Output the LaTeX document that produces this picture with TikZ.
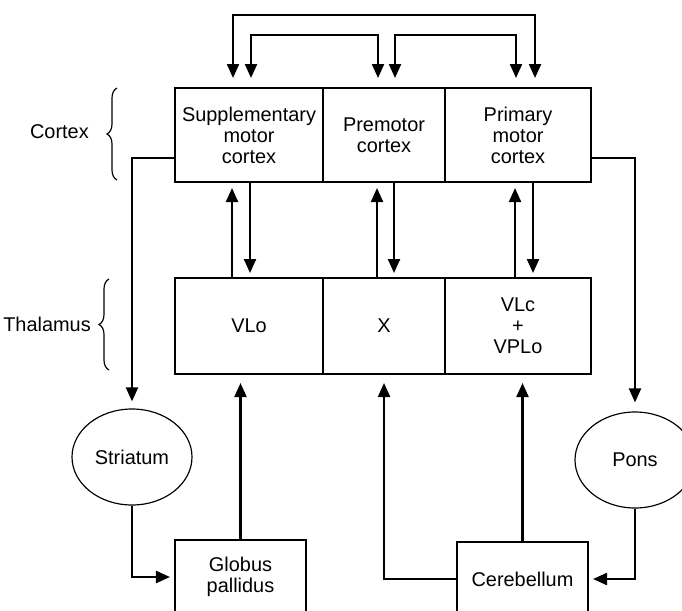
\documentclass[tikz,border=0pt]{standalone}
\usepackage{fontspec}
\setmainfont{Liberation Sans}
\usetikzlibrary{arrows.meta,positioning,shapes.geometric,calc,decorations.pathreplacing}
\tikzset{
  cell/.style={draw, line width=1.8pt, align=center, outer sep=0pt, inner sep=1pt, font=\fontsize{17}{18}\selectfont},
  oval/.style={draw, ellipse, line width=1pt, minimum width=3.6cm, minimum height=2.88cm, font=\fontsize{17}{18}\selectfont},
  tag/.style={inner sep=0pt, font=\fontsize{17}{18}\selectfont},
  flow/.style={-{Triangle[length=4.2mm, width=3.6mm]}, line width=1.9pt, shorten >=1.5mm},
  twoway/.style={{Triangle[length=4.2mm, width=3.6mm]}-{Triangle[length=4.2mm, width=3.6mm]}, line width=1.9pt, shorten <=3mm, shorten >=3mm},
  grp/.style={decorate, decoration={brace, amplitude=3mm}, line width=1pt}
}
\begin{document}
\begin{tikzpicture}[x=0.03cm, y=-0.03cm, node distance=2.88cm and 0pt]
\useasboundingbox (0,0) rectangle (682,610);
\node[cell, minimum width=4.44cm, minimum height=2.82cm, anchor=north west] (sma) at (175,88) {Supplementary\\motor\\cortex};
\node[cell, minimum width=3.66cm, minimum height=2.82cm, right=0pt of sma] (pmc) {Premotor\\cortex};
\node[cell, minimum width=4.38cm, minimum height=2.82cm, right=0pt of pmc] (m1) {Primary\\motor\\cortex};
\node[cell, minimum width=4.44cm, minimum height=2.88cm, below=of sma] (vlo) {VLo};
\node[cell, minimum width=3.66cm, minimum height=2.88cm, right=0pt of vlo] (xnuc) {X};
\node[cell, minimum width=4.38cm, minimum height=2.88cm, right=0pt of xnuc] (vlc) {VLc\\+\\VPLo};
\node[oval] (str) at (132,457) {Striatum};
\node[oval] (pons) at (635,460) {Pons};
\node[cell, minimum width=3.93cm, minimum height=2.22cm, anchor=north] (gp) at (240.5,540) {Globus\\pallidus};
\node[cell, minimum width=3.93cm, minimum height=2.22cm, anchor=north] (cb) at (522.5,542) {Cerebellum};
\node[tag, anchor=east] (ctxlab) at (89,132) {Cortex};
\node[tag, anchor=east] (thlab) at (91,324) {Thalamus};
\draw[grp] (117,180) -- (117,88);
\draw[grp] (109,370) -- (109,279);
\draw[twoway] ($(sma.north)+(-16,0)$) -- ++(0,-73) -| ($(m1.north)+(17,0)$);
\draw[twoway] ($(sma.north)+(2,0)$) -- ++(0,-53) -| ($(pmc.north)+(-6,0)$);
\draw[twoway] ($(pmc.north)+(11,0)$) -- ++(0,-53) -| ($(m1.north)+(-2,0)$);
\draw[flow, shorten >=1.8mm] ($(vlo.north)+(-17,0)$) -- ($(sma.south)+(-17,0)$);
\draw[flow] ($(sma.south)+(1,0)$) -- ($(vlo.north)+(1,0)$);
\draw[flow, shorten >=1.8mm] ($(xnuc.north)+(-7,0)$) -- ($(pmc.south)+(-7,0)$);
\draw[flow] ($(pmc.south)+(10,0)$) -- ($(xnuc.north)+(10,0)$);
\draw[flow, shorten >=1.8mm] ($(vlc.north)+(-3,0)$) -- ($(m1.south)+(-3,0)$);
\draw[flow] ($(m1.south)+(15,0)$) -- ($(vlc.north)+(15,0)$);
\draw[flow, shorten >=2.1mm] (sma.west |- 0,158) -| (str.north);
\draw[flow, shorten >=2.7mm] (m1.east |- 0,158) -| (pons.north);
\draw[flow] (str.south) |- (gp.west);
\draw[flow] (pons.south) |- (cb.east);
\draw[flow, shorten >=2.7mm] (gp.north) -- (gp.north |- vlo.south);
\draw[flow, shorten >=2.7mm] (cb.north) -- (cb.north |- vlc.south);
\draw[flow, shorten >=2.7mm] (cb.west) -| (xnuc.south);
\end{tikzpicture}
\end{document}
